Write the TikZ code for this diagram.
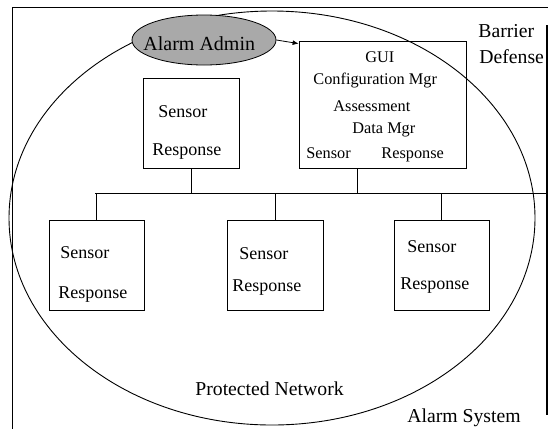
\documentclass[tikz,border=0pt]{standalone}
\usepackage{fontspec}
\setmainfont{Liberation Serif}
\usepackage{tikz}
\usetikzlibrary{positioning, arrows.meta, shapes}
\definecolor{admingray}{HTML}{A9A9A9}

\tikzset{
    box/.style={shape=rectangle, draw=black, fill=white, line width=0.8pt},
    boxtxt/.style={anchor=base west, inner sep=0pt, font=\fontsize{18}{20}\selectfont},
    guitxt/.style={anchor=base west, inner sep=0pt, font=\fontsize{16.3}{18}\selectfont},
    lbl/.style={anchor=base west, inner sep=0pt, font=\fontsize{19.7}{22}\selectfont},
}

\begin{document}
\begin{tikzpicture}[x=1pt, y=-1pt, line width=0.8pt]
    \useasboundingbox (0,0) rectangle (548,429);

    % frame and barrier
    \draw (548,7) -- (12,7) -- (12,429);
    \coordinate (barTop) at (547,25);
    \coordinate (barBot) at (547,415);
    \draw[line width=2.4pt] (barTop) -- (barBot);

    % bus
    \coordinate (busL) at (95,193);
    \coordinate (busR) at (547,193);
    \draw (busL) -- (busR);

    % boxes
    \node[box, minimum width=96pt, minimum height=90pt] (s0) at (191,123) {};
    \node[box, minimum width=167pt, minimum height=127pt] (gui) at (382.5,104.5) {};
    \node[box, minimum width=95pt, minimum height=90pt] (b1) at (96.5,265) {};
    \node[box, minimum width=96pt, minimum height=90pt] (b2) at (275,265) {};
    \node[box, minimum width=95pt, minimum height=90pt] (b3) at (441.5,265) {};

    \draw (s0.south) -- (s0.south |- busL);
    \draw ([xshift=59pt]gui.south west) -- ([xshift=59pt]gui.south west |- busL);
    \draw (b1.north) -- (b1.north |- busL);
    \draw (b2.north) -- (b2.north |- busL);
    \draw (b3.north) -- (b3.north |- busL);

    % protected network
    \draw[line width=0.9pt] (272,218) ellipse [x radius=263, y radius=207];

    \node[shape=ellipse, draw=black, fill=admingray, minimum width=144pt, minimum height=50pt, inner xsep=-20pt] (admin) at (204,40) {};
    \node[lbl, font=\fontsize{20}{22}\selectfont] (adminTxt) at (143,50) {Alarm Admin};
    \path [-{Latex[length=6pt, width=5pt]}] (admin.east) edge ([yshift=-3pt]gui.north west);

    % texts
    \node[boxtxt] (s0a) at (158,117) {Sensor};
    \node[boxtxt] (s0b) at (152,155) {Response};

    \node[guitxt] (g1) at (365,62) {GUI};
    \node[guitxt] (g2) at (313,84) {Configuration Mgr};
    \node[guitxt] (g3) at (333,111) {Assessment};
    \node[guitxt] (g4) at (352,133) {Data Mgr};
    \node[guitxt] (g5) at (306,158) {Sensor};
    \node[guitxt] (g6) at (381,158) {Response};

    \node[boxtxt] (b1a) at (60,258) {Sensor};
    \node[boxtxt] (b1b) at (58,298) {Response};
    \node[boxtxt] (b2a) at (239,259) {Sensor};
    \node[boxtxt] (b2b) at (232,291) {Response};
    \node[boxtxt] (b3a) at (407,252) {Sensor};
    \node[boxtxt] (b3b) at (400,289) {Response};

    \node[lbl] (barrier) at (478,37) {Barrier};
    \node[lbl] (defense) at (479,63) {Defense};
    \node[lbl] (protNet) at (195,395) {Protected Network};
    \node[lbl] (alarmSys) at (407,422) {Alarm System};

\end{tikzpicture}
\end{document}
